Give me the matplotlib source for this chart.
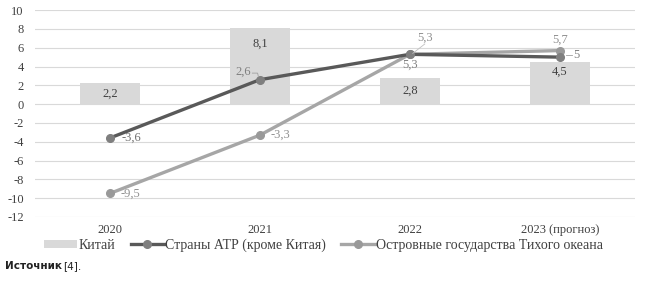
import matplotlib
matplotlib.use("Agg")
import matplotlib.pyplot as plt
from matplotlib.lines import Line2D
from matplotlib.patches import Patch

categories = ["2020", "2021", "2022", "2023 (прогноз)"]
china = [2.2, 8.1, 2.8, 4.5]
apac = [-3.6, 2.6, 5.3, 5.0]
islands = [-9.5, -3.3, 5.3, 5.7]
china_lbl = ["2,2", "8,1", "2,8", "4,5"]
apac_lbl = ["-3,6", "2,6", "5,3", "5"]
isl_lbl = ["-9,5", "-3,3", "5,3", "5,7"]

plt.rcParams['font.family'] = ['Liberation Serif', 'DejaVu Serif']
plt.rcParams['axes.unicode_minus'] = False

fig = plt.figure(figsize=(6.47, 2.98), dpi=100)
ax = fig.add_axes([0.054, 0.272, 0.927, 0.694])
x = list(range(len(categories)))

bar_c = "#d9d9d9"
dark = "#595959"
light = "#a6a6a6"

ax.bar(x, china, width=0.4, color=bar_c, zorder=2)
ax.plot(x, apac, color=dark, lw=2.4, marker='o', ms=5.5, mfc="#7f7f7f", mec="#7f7f7f", zorder=4)
ax.plot(x, islands, color=light, lw=2.4, marker='o', ms=5.5, mfc="#999999", mec="#999999", zorder=3)

ax.set_xlim(-0.5, 3.5)
ax.set_ylim(-12, 10)
ax.set_yticks(range(-12, 11, 2))
ax.set_xticks(x)
ax.set_xticklabels(categories, fontsize=9, color="#404040")
ax.tick_params(axis='y', labelsize=9, labelcolor="#404040", length=0, pad=8)
ax.tick_params(axis='x', length=0, pad=5)
ax.grid(axis='y', color="#d9d9d9", lw=0.8, zorder=0)
for s in ax.spines.values():
    s.set_visible(False)

fs = 9
# bar labels
ax.text(0, 1.1, china_lbl[0], ha='center', va='center', fontsize=fs, color="#404040", zorder=5)
ax.text(1, 6.4, china_lbl[1], ha='center', va='center', fontsize=fs, color="#404040", zorder=5)
ax.text(2, 1.4, china_lbl[2], ha='center', va='center', fontsize=fs, color="#404040", zorder=5)
ax.text(3, 3.5, china_lbl[3], ha='center', va='center', fontsize=fs, color="#404040", zorder=5)

# apac labels
ax.text(0.08, -3.6, apac_lbl[0], ha='left', va='center', fontsize=fs, color="#707070", zorder=5)
ax.text(0.94, 3.4, apac_lbl[1], ha='right', va='center', fontsize=fs, color="#808080", zorder=5)
ax.plot([0.95, 0.985, 0.99], [3.3, 3.3, 2.95], color="#a0a0a0", lw=0.6, zorder=5)
ax.text(2.0, 4.2, apac_lbl[2], ha='center', va='center', fontsize=fs, color="#808080", zorder=5)
ax.text(3.09, 5.2, apac_lbl[3], ha='left', va='center', fontsize=fs, color="#808080", zorder=5)
ax.plot([3.04, 3.08], [5.25, 5.25], color="#a0a0a0", lw=0.6, zorder=5)

# islands labels
ax.text(0.07, -9.5, isl_lbl[0], ha='left', va='center', fontsize=fs, color="#909090", zorder=5)
ax.text(1.07, -3.3, isl_lbl[1], ha='left', va='center', fontsize=fs, color="#909090", zorder=5)
ax.text(2.1, 7.1, isl_lbl[2], ha='center', va='center', fontsize=fs, color="#909090", zorder=5)
ax.plot([2.02, 2.1], [5.4, 6.4], color="#c0c0c0", lw=0.6, zorder=5)
ax.text(3.0, 6.8, isl_lbl[3], ha='center', va='center', fontsize=fs, color="#909090", zorder=5)

handles = [
    Patch(facecolor=bar_c, edgecolor='none'),
    Line2D([], [], color=dark, lw=2.4, marker='o', ms=5.5, mfc="#7f7f7f", mec="#7f7f7f"),
    Line2D([], [], color=light, lw=2.4, marker='o', ms=5.5, mfc="#999999", mec="#999999"),
]
labels = ["Китай", "Страны АТР (кроме Китая)", "Островные государства Тихого океана"]
fig.legend(handles, labels, loc='center', bbox_to_anchor=(0.5, 0.178), ncol=3,
           frameon=False, fontsize=10, handlelength=2.4, handletextpad=0.1,
           columnspacing=1.1, labelcolor="#404040", handleheight=0.5)

fig.text(0.008, 0.098, "Источник", fontsize=7.5, family=['DejaVu Sans'], weight='bold', color="#222222")
fig.text(0.098, 0.098, "[4].", fontsize=7.5, family=['DejaVu Sans'], color="#222222")

fig.savefig("out.png", dpi=100)
